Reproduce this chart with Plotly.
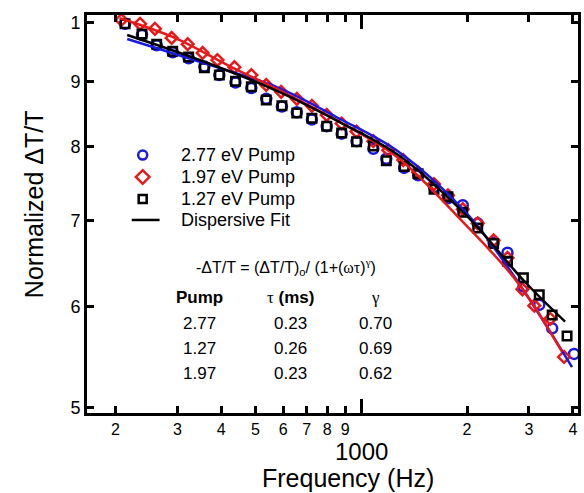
import math
import plotly.graph_objects as go

# ---------------- data ----------------
freq_black = [213, 238, 262, 291, 323, 358, 395, 439, 487, 537, 595, 656, 724, 798, 880,
              970, 1083, 1179, 1325, 1452, 1611, 1765, 1945, 2145, 2380, 2607, 2893, 3210, 3493, 3851]
val_black = [0.998, 0.980, 0.962, 0.950, 0.940, 0.922, 0.910, 0.900, 0.891, 0.870, 0.861, 0.850, 0.842, 0.830, 0.820,
             0.807, 0.801, 0.780, 0.772, 0.762, 0.741, 0.731, 0.711, 0.691, 0.672, 0.651, 0.632, 0.613, 0.591, 0.569]

freq_red = [208, 235, 259, 289, 321, 354, 390, 436, 487, 537, 592, 656, 724, 798, 880,
            970, 1083, 1194, 1317, 1452, 1611, 1765, 1945, 2145, 2380, 2607, 2874, 3108, 3449, 3776]
val_red = [1.005, 0.998, 0.989, 0.973, 0.962, 0.947, 0.935, 0.923, 0.910, 0.894, 0.883, 0.872, 0.861, 0.847, 0.834,
           0.822, 0.808, 0.795, 0.781, 0.764, 0.748, 0.733, 0.715, 0.697, 0.676, 0.655, 0.619, 0.601, 0.587, 0.548]

freq_blue = [213, 238, 262, 291, 323, 358, 395, 439, 487, 537, 595, 656, 724, 798, 880,
             970, 1083, 1179, 1325, 1452, 1611, 1765, 1945, 2145, 2380, 2607, 2893, 3210, 3493, 4030]
val_blue = [0.998, 0.978, 0.960, 0.948, 0.938, 0.924, 0.910, 0.898, 0.889, 0.872, 0.860, 0.851, 0.840, 0.830, 0.819,
            0.808, 0.797, 0.783, 0.770, 0.760, 0.744, 0.729, 0.720, 0.697, 0.673, 0.661, 0.622, 0.602, 0.577, 0.551]

fit_blue_f = [216, 347, 584, 863, 1275, 2010, 2728, 3979]
fit_blue_v = [0.971, 0.932, 0.889, 0.842, 0.793, 0.708, 0.633, 0.538]
fit_red_f = [206, 295, 422, 623, 921, 1275, 1859, 2782, 3728]
fit_red_v = [1.008, 0.973, 0.925, 0.878, 0.829, 0.784, 0.708, 0.627, 0.553]
fit_black_f = [216, 347, 584, 863, 1275, 2010, 2911, 3802]
fit_black_v = [0.978, 0.935, 0.883, 0.837, 0.788, 0.705, 0.628, 0.584]

x_tickvals = [200, 300, 400, 500, 600, 700, 800, 900, 2000, 3000, 4000]
x_ticktext = ["2", "3", "4", "5", "6", "7", "8", "9", "2", "3", "4"]
x_long_tick = [1000]
y_tickvals = [0.5, 0.6, 0.7, 0.8, 0.9, 1.0]
y_ticktext = ["5", "6", "7", "8", "9", "1"]

legend_names = ["2.77 eV Pump", "1.97 eV Pump", "1.27 eV Pump", "Dispersive Fit"]
table_header = ["Pump", "τ (ms)", "γ"]
table_pump = ["2.77", "1.27", "1.97"]
table_tau = ["0.23", "0.26", "0.23"]
table_gamma = ["0.70", "0.69", "0.62"]

BLUE = "rgb(25,25,225)"
RED = "rgb(232,24,24)"
BLACK = "black"
FONT = "Liberation Sans, Arial, sans-serif"
SERIF = "Liberation Serif, Times New Roman, serif"

fig = go.Figure()

# data markers
fig.add_trace(go.Scatter(x=freq_blue, y=val_blue, mode="markers", showlegend=False,
                         marker=dict(symbol="circle-open", size=10, color=BLUE, line=dict(width=2.5))))
fig.add_trace(go.Scatter(x=freq_red, y=val_red, mode="markers", showlegend=False,
                         marker=dict(symbol="diamond-open", size=9, color=RED, line=dict(width=2.5))))
fig.add_trace(go.Scatter(x=freq_black, y=val_black, mode="markers", showlegend=False,
                         marker=dict(symbol="square-open", size=8.5, color=BLACK, line=dict(width=2.5))))
# fit lines
fig.add_trace(go.Scatter(x=fit_blue_f, y=fit_blue_v, mode="lines", showlegend=False,
                         line=dict(color=BLUE, width=2.5, shape="spline")))
fig.add_trace(go.Scatter(x=fit_red_f, y=fit_red_v, mode="lines", showlegend=False,
                         line=dict(color=RED, width=2.5, shape="spline")))
fig.add_trace(go.Scatter(x=fit_black_f, y=fit_black_v, mode="lines", showlegend=False,
                         line=dict(color=BLACK, width=2.5, shape="spline")))

# ---- hand-placed legend keys on an invisible overlay axis (fractions of the plot area) ----
key_x = 0.1134
key_rows = [0.648, 0.593, 0.538, 0.485]
key_styles = [
    dict(symbol="circle-open", size=9, color=BLUE, line=dict(width=2.5)),
    dict(symbol="diamond-open", size=10.5, color=RED, line=dict(width=2.5)),
    dict(symbol="square-open", size=8, color=BLACK, line=dict(width=2.5)),
]
for row, st in zip(key_rows[:3], key_styles):
    fig.add_trace(go.Scatter(x=[key_x], y=[row], xaxis="x2", yaxis="y2", mode="markers",
                             marker=st, showlegend=False, hoverinfo="skip"))
fig.add_trace(go.Scatter(x=[0.0911, 0.1478], y=[key_rows[3], key_rows[3]], xaxis="x2", yaxis="y2",
                         mode="lines", line=dict(color=BLACK, width=2.5), showlegend=False, hoverinfo="skip"))

annotations = []
for row, name in zip(key_rows, legend_names):
    annotations.append(dict(x=0.188, y=row, xref="paper", yref="paper", text=name, showarrow=False,
                            font=dict(size=18, family=FONT, color="black"), xanchor="left", yanchor="middle"))
# big 1000 label
annotations.append(dict(x=math.log10(1000), y=-0.0955, xref="x", yref="paper", text="1000",
                        showarrow=False, font=dict(size=24, family=FONT, color="black"),
                        xanchor="center", yanchor="middle"))
# axis titles
annotations.append(dict(x=0.532, y=-0.163, xref="paper", yref="paper", text="Frequency (Hz)",
                        showarrow=False, font=dict(size=25, family=FONT, color="black"),
                        xanchor="center", yanchor="middle"))
annotations.append(dict(x=-0.109, y=0.526, xref="paper", yref="paper", text="Normalized ΔT/T",
                        showarrow=False, textangle=-90, font=dict(size=25, family=FONT, color="black"),
                        xanchor="center", yanchor="middle"))
# equation
eq = ('-ΔT/T = (ΔT/T)<sub>o</sub>/ (1+(<span style="font-family:%s">ωτ</span>)'
      '<sup><span style="font-family:%s">γ</span></sup>)') % (SERIF, SERIF)
annotations.append(dict(x=0.405, y=0.367, xref="paper", yref="paper", text=eq, showarrow=False,
                        font=dict(size=16, family=FONT, color="black"), xanchor="center", yanchor="middle"))
# table
col_x = [0.23, 0.415, 0.587]
row_y = [0.290, 0.224, 0.161, 0.098]
header_txt = ["<b>%s</b>" % table_header[0],
              '<span style="font-family:%s">τ</span> <b>(ms)</b>' % SERIF,
              '<span style="font-family:%s">γ</span>' % SERIF]
for cx, t in zip(col_x, header_txt):
    annotations.append(dict(x=cx, y=row_y[0], xref="paper", yref="paper", text=t, showarrow=False,
                            font=dict(size=17, family=FONT, color="black"), xanchor="center", yanchor="middle"))
for i in range(3):
    for cx, col in zip(col_x, [table_pump, table_tau, table_gamma]):
        annotations.append(dict(x=cx, y=row_y[i + 1], xref="paper", yref="paper", text=col[i],
                                showarrow=False, font=dict(size=17, family=FONT, color="black"),
                                xanchor="center", yanchor="middle"))

fig.update_layout(
    width=584, height=493,
    margin=dict(l=87, r=3, t=15, b=80),
    paper_bgcolor="white", plot_bgcolor="white",
    font=dict(family=FONT, color="black"),
    showlegend=False,
    annotations=annotations,
    xaxis2=dict(overlaying="x", range=[0, 1], visible=False, fixedrange=True),
    yaxis2=dict(overlaying="y", range=[0, 1], visible=False, fixedrange=True),
)
fig.update_layout(
    xaxis=dict(
        type="log", range=[math.log10(166), math.log10(4137)],
        showline=True, linewidth=3, linecolor="black", mirror="ticks",
        ticks="inside", ticklen=7, tickwidth=2.5, tickcolor="black",
        tickmode="array", tickvals=x_tickvals, ticktext=x_ticktext,
        tickfont=dict(size=16, family=FONT, color="black"),
        minor=dict(tickmode="array", tickvals=x_long_tick, ticks="inside", ticklen=14,
                   tickwidth=2.5, tickcolor="black", showgrid=False),
        showgrid=False, zeroline=False,
    ),
    yaxis=dict(
        type="log", range=[-0.305, 0.006],
        showline=True, linewidth=3, linecolor="black", mirror="ticks",
        ticks="inside", ticklen=7, tickwidth=2.5, tickcolor="black",
        tickmode="array", tickvals=y_tickvals, ticktext=y_ticktext,
        tickfont=dict(size=18, family=FONT, color="black"),
        showgrid=False, zeroline=False,
    ),
)

fig.write_html("out.html")
